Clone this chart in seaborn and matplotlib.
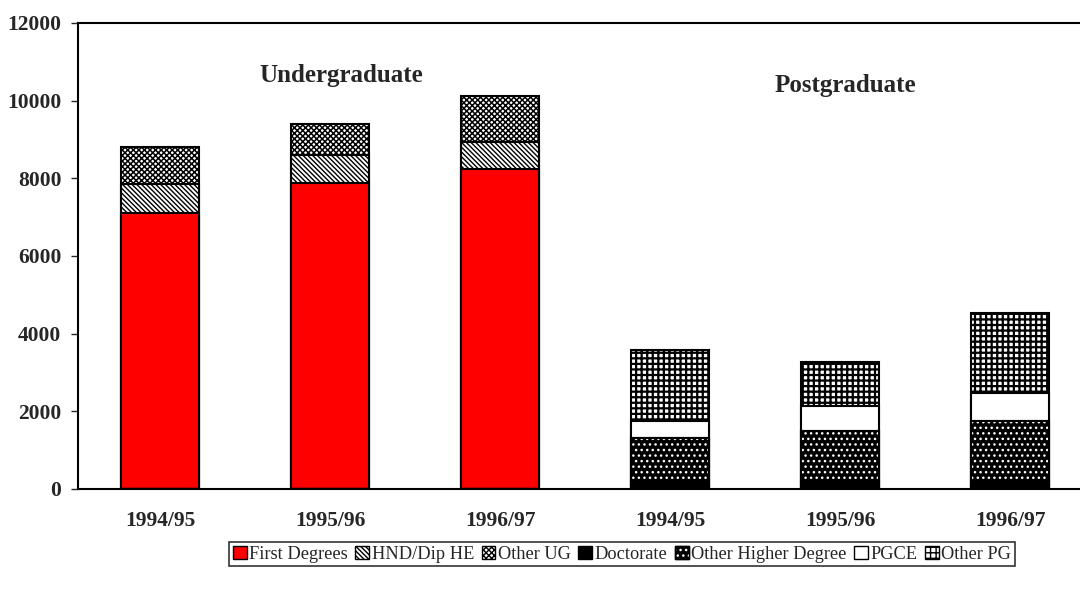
import pandas as pd
import seaborn as sns
import matplotlib.pyplot as plt
import matplotlib as mpl
from matplotlib.patches import Patch

# Plot style
sns.set_style("ticks")
plt.rcParams['font.family'] = ['Liberation Serif', 'DejaVu Serif']
plt.rcParams['hatch.color'] = 'black'

# Data (students)
positions = ['UG 1994/95', 'UG 1995/96', 'UG 1996/97', 'PG 1994/95', 'PG 1995/96', 'PG 1996/97']
tick_labels = ['1994/95', '1995/96', '1996/97', '1994/95', '1995/96', '1996/97']
first_degrees = [7100, 7890, 8240, 0, 0, 0]
hnd_dip_he = [750, 720, 695, 0, 0, 0]
other_ug = [960, 780, 1190, 0, 0, 0]
doctorate = [0, 0, 0, 230, 230, 240]
other_higher = [0, 0, 0, 1075, 1270, 1520]
pgce = [0, 0, 0, 455, 640, 710]
other_pg = [0, 0, 0, 1820, 1135, 2060]

ug_series = [('First Degrees', first_degrees), ('HND/Dip HE', hnd_dip_he), ('Other UG', other_ug)]
pg_series = [('Doctorate', doctorate), ('Other Higher Degree', other_higher),
             ('PGCE', pgce), ('Other PG', other_pg)]

# cumulative heights inside each group (UG and PG stack separately)
df = pd.DataFrame({'pos': positions})
for group in [ug_series, pg_series]:
    running = [0] * len(positions)
    for name, vals in group:
        running = [r + v for r, v in zip(running, vals)]
        df[name] = running

# style per series: (facecolor, hatch, hatch linewidth)
styles = {
    'First Degrees': ('#ff0000', None, 1.0),
    'HND/Dip HE': ('white', '\\' * 7, 1.0),
    'Other UG': ('white', 'x' * 6, 1.1),
    'Doctorate': ('black', None, 1.0),
    'Other Higher Degree': ('black', None, 1.0),
    'PGCE': ('white', None, 1.0),
    'Other PG': ('white', '+++', 1.6),
}

fig, ax = plt.subplots(figsize=(10.8, 5.89), dpi=100)
fig.subplots_adjust(left=0.0722, right=1.0, bottom=0.1698, top=0.961)

bw = 0.46
# draw from the top of each stack downwards
for name in ['Other UG', 'HND/Dip HE', 'First Degrees',
             'Other PG', 'PGCE', 'Other Higher Degree', 'Doctorate']:
    face, hatch, hlw = styles[name]
    plt.rcParams['hatch.linewidth'] = hlw
    sns.barplot(data=df, x='pos', y=name, order=positions, color=face, saturation=1,
                hatch=hatch, edgecolor='black', linewidth=1.5, width=bw,
                errorbar=None, ax=ax)
    if name == 'Other Higher Degree':
        # white speckle pattern on black
        plt.rcParams['hatch.linewidth'] = 1.0
        sns.barplot(data=df, x='pos', y=name, order=positions, color='white', fill=False,
                    hatch='...', linewidth=0, width=bw, errorbar=None, ax=ax)
        sns.barplot(data=df, x='pos', y=name, order=positions, color='black', fill=False,
                    linewidth=1.5, width=bw, errorbar=None, ax=ax)

ax.set_xlim(-0.482, 5.41)
ax.set_ylim(0, 12000)
ax.set_yticks(range(0, 12001, 2000))
ax.set_xticks(range(len(positions)))
ax.set_xticklabels(tick_labels)
ax.set_xlabel('')
ax.set_ylabel('')
ax.tick_params(axis='x', length=0, pad=16, labelsize=15.5)
ax.tick_params(axis='y', length=5, width=1, pad=7, labelsize=15.5)
for lab in ax.get_xticklabels() + ax.get_yticklabels():
    lab.set_fontweight('bold')

for side in ['left', 'top', 'bottom']:
    ax.spines[side].set_linewidth(1.5)
    ax.spines[side].set_color('black')
ax.spines['right'].set_visible(False)

ax.text(1.065, 10660, 'Undergraduate', ha='center', va='center', fontsize=18, fontweight='bold')
ax.text(4.03, 10400, 'Postgraduate', ha='center', va='center', fontsize=18, fontweight='bold')

# legend
plt.rcParams['hatch.linewidth'] = 1.0
handles = []
for name in ['First Degrees', 'HND/Dip HE', 'Other UG', 'Doctorate',
             'Other Higher Degree', 'PGCE', 'Other PG']:
    face, hatch, hlw = styles[name]
    if name == 'Other Higher Degree':
        handles.append((Patch(facecolor='black', edgecolor='black'),
                        Patch(facecolor='none', edgecolor='white', hatch='...', linewidth=0),
                        Patch(facecolor='none', edgecolor='black', linewidth=1)))
    else:
        handles.append(Patch(facecolor=face, edgecolor='black', hatch=hatch, linewidth=1))
labels = ['First Degrees', 'HND/Dip HE', 'Other UG', 'Doctorate',
          'Other Higher Degree', 'PGCE', 'Other PG']
leg = fig.legend(handles, labels, loc='center', bbox_to_anchor=(0.576, 0.059), ncol=7,
                 fontsize=13.2, frameon=True, fancybox=False, edgecolor='black',
                 handlelength=0.75, handleheight=0.75, handletextpad=0.15,
                 columnspacing=0.4, borderpad=0.2, borderaxespad=0)
leg.get_frame().set_linewidth(1.2)

plt.savefig('out.png', dpi=100)
